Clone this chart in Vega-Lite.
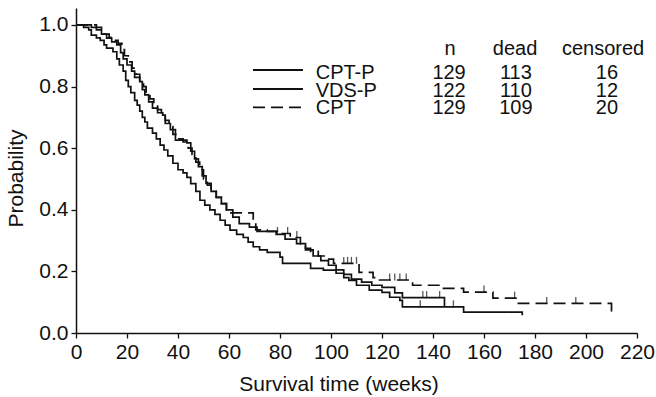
{
  "$schema": "https://vega.github.io/schema/vega-lite/v6.json",
  "autosize": "none",
  "width": 561,
  "height": 325,
  "padding": {"left": 76, "top": 8, "right": 19, "bottom": 64},
  "background": "white",
  "config": {
    "view": {"stroke": null},
    "font": "Liberation Sans",
    "axis": {
      "grid": false,
      "domainColor": "#111",
      "domainWidth": 1.5,
      "tickColor": "#111",
      "tickWidth": 1.3,
      "tickSize": 5,
      "labelFont": "Liberation Sans",
      "labelFontSize": 21,
      "labelColor": "#111",
      "labelOverlap": false,
      "labelFlush": false,
      "titleFont": "Liberation Sans",
      "titleFontSize": 21,
      "titleFontWeight": "normal",
      "titleColor": "#111"
    }
  },
  "datasets": {
    "curves": [
      {"series": "CPT", "week": 0, "surv": 1.0},
      {"series": "CPT", "week": 8, "surv": 0.992},
      {"series": "CPT", "week": 10, "surv": 0.984},
      {"series": "CPT", "week": 11, "surv": 0.97},
      {"series": "CPT", "week": 13, "surv": 0.96},
      {"series": "CPT", "week": 15, "surv": 0.95},
      {"series": "CPT", "week": 16.5, "surv": 0.94},
      {"series": "CPT", "week": 18, "surv": 0.92},
      {"series": "CPT", "week": 19, "surv": 0.9},
      {"series": "CPT", "week": 20.5, "surv": 0.88},
      {"series": "CPT", "week": 22, "surv": 0.86},
      {"series": "CPT", "week": 23.5, "surv": 0.84},
      {"series": "CPT", "week": 25, "surv": 0.82},
      {"series": "CPT", "week": 26.5, "surv": 0.8},
      {"series": "CPT", "week": 27.5, "surv": 0.78},
      {"series": "CPT", "week": 29, "surv": 0.76},
      {"series": "CPT", "week": 30.5, "surv": 0.74},
      {"series": "CPT", "week": 32, "surv": 0.725},
      {"series": "CPT", "week": 33.5, "surv": 0.71},
      {"series": "CPT", "week": 35, "surv": 0.69},
      {"series": "CPT", "week": 36.5, "surv": 0.67},
      {"series": "CPT", "week": 38, "surv": 0.645},
      {"series": "CPT", "week": 40, "surv": 0.63},
      {"series": "CPT", "week": 42, "surv": 0.62},
      {"series": "CPT", "week": 44, "surv": 0.6},
      {"series": "CPT", "week": 45.5, "surv": 0.58},
      {"series": "CPT", "week": 47, "surv": 0.555},
      {"series": "CPT", "week": 48.5, "surv": 0.53},
      {"series": "CPT", "week": 50, "surv": 0.5},
      {"series": "CPT", "week": 51.5, "surv": 0.48},
      {"series": "CPT", "week": 53, "surv": 0.46},
      {"series": "CPT", "week": 55, "surv": 0.44},
      {"series": "CPT", "week": 57, "surv": 0.42},
      {"series": "CPT", "week": 59, "surv": 0.40},
      {"series": "CPT", "week": 60, "surv": 0.39},
      {"series": "CPT", "week": 69.5, "surv": 0.36},
      {"series": "CPT", "week": 70.5, "surv": 0.335},
      {"series": "CPT", "week": 75, "surv": 0.33},
      {"series": "CPT", "week": 79, "surv": 0.323},
      {"series": "CPT", "week": 84, "surv": 0.31},
      {"series": "CPT", "week": 88, "surv": 0.29},
      {"series": "CPT", "week": 90, "surv": 0.275},
      {"series": "CPT", "week": 92, "surv": 0.265},
      {"series": "CPT", "week": 95, "surv": 0.25},
      {"series": "CPT", "week": 98, "surv": 0.24},
      {"series": "CPT", "week": 101, "surv": 0.226},
      {"series": "CPT", "week": 111, "surv": 0.197},
      {"series": "CPT", "week": 116.5, "surv": 0.18},
      {"series": "CPT", "week": 119, "surv": 0.172},
      {"series": "CPT", "week": 132, "surv": 0.155},
      {"series": "CPT", "week": 143, "surv": 0.145},
      {"series": "CPT", "week": 152, "surv": 0.133},
      {"series": "CPT", "week": 163.5, "surv": 0.113},
      {"series": "CPT", "week": 173, "surv": 0.096},
      {"series": "CPT", "week": 210, "surv": 0.064},

      {"series": "CPT-P", "week": 0, "surv": 1.0},
      {"series": "CPT-P", "week": 6, "surv": 0.992},
      {"series": "CPT-P", "week": 8, "surv": 0.984},
      {"series": "CPT-P", "week": 10, "surv": 0.97},
      {"series": "CPT-P", "week": 12, "surv": 0.957},
      {"series": "CPT-P", "week": 14, "surv": 0.945},
      {"series": "CPT-P", "week": 16, "surv": 0.935},
      {"series": "CPT-P", "week": 17.5, "surv": 0.91},
      {"series": "CPT-P", "week": 18.5, "surv": 0.89},
      {"series": "CPT-P", "week": 20, "surv": 0.87},
      {"series": "CPT-P", "week": 21.8, "surv": 0.85},
      {"series": "CPT-P", "week": 23, "surv": 0.83},
      {"series": "CPT-P", "week": 25, "surv": 0.816},
      {"series": "CPT-P", "week": 26, "surv": 0.79},
      {"series": "CPT-P", "week": 27, "surv": 0.773},
      {"series": "CPT-P", "week": 28.5, "surv": 0.75},
      {"series": "CPT-P", "week": 30, "surv": 0.73},
      {"series": "CPT-P", "week": 32, "surv": 0.715},
      {"series": "CPT-P", "week": 34, "surv": 0.707},
      {"series": "CPT-P", "week": 35, "surv": 0.68},
      {"series": "CPT-P", "week": 37, "surv": 0.66},
      {"series": "CPT-P", "week": 39, "surv": 0.626},
      {"series": "CPT-P", "week": 43.5, "surv": 0.617},
      {"series": "CPT-P", "week": 45, "surv": 0.59},
      {"series": "CPT-P", "week": 46.5, "surv": 0.565},
      {"series": "CPT-P", "week": 48, "surv": 0.54},
      {"series": "CPT-P", "week": 49.5, "surv": 0.51},
      {"series": "CPT-P", "week": 51, "surv": 0.486},
      {"series": "CPT-P", "week": 53, "surv": 0.46},
      {"series": "CPT-P", "week": 55, "surv": 0.44},
      {"series": "CPT-P", "week": 57, "surv": 0.42},
      {"series": "CPT-P", "week": 59, "surv": 0.40},
      {"series": "CPT-P", "week": 61.5, "surv": 0.376},
      {"series": "CPT-P", "week": 64, "surv": 0.355},
      {"series": "CPT-P", "week": 68, "surv": 0.344},
      {"series": "CPT-P", "week": 71, "surv": 0.33},
      {"series": "CPT-P", "week": 78.5, "surv": 0.32},
      {"series": "CPT-P", "week": 82, "surv": 0.305},
      {"series": "CPT-P", "week": 86.5, "surv": 0.29},
      {"series": "CPT-P", "week": 90, "surv": 0.27},
      {"series": "CPT-P", "week": 93, "surv": 0.25},
      {"series": "CPT-P", "week": 96, "surv": 0.235},
      {"series": "CPT-P", "week": 99, "surv": 0.22},
      {"series": "CPT-P", "week": 102, "surv": 0.205},
      {"series": "CPT-P", "week": 105, "surv": 0.19},
      {"series": "CPT-P", "week": 108, "surv": 0.175},
      {"series": "CPT-P", "week": 112, "surv": 0.165},
      {"series": "CPT-P", "week": 116, "surv": 0.155},
      {"series": "CPT-P", "week": 120, "surv": 0.148},
      {"series": "CPT-P", "week": 125, "surv": 0.13},
      {"series": "CPT-P", "week": 128, "surv": 0.115},
      {"series": "CPT-P", "week": 144.5, "surv": 0.085},

      {"series": "VDS-P", "week": 0, "surv": 1.0},
      {"series": "VDS-P", "week": 3, "surv": 0.992},
      {"series": "VDS-P", "week": 5, "surv": 0.984},
      {"series": "VDS-P", "week": 6, "surv": 0.967},
      {"series": "VDS-P", "week": 8, "surv": 0.958},
      {"series": "VDS-P", "week": 9.5, "surv": 0.95},
      {"series": "VDS-P", "week": 11, "surv": 0.935},
      {"series": "VDS-P", "week": 12, "surv": 0.925},
      {"series": "VDS-P", "week": 14.5, "surv": 0.913},
      {"series": "VDS-P", "week": 16, "surv": 0.89},
      {"series": "VDS-P", "week": 17, "surv": 0.87},
      {"series": "VDS-P", "week": 18.5, "surv": 0.85},
      {"series": "VDS-P", "week": 19.5, "surv": 0.82},
      {"series": "VDS-P", "week": 20.5, "surv": 0.8},
      {"series": "VDS-P", "week": 21.5, "surv": 0.78},
      {"series": "VDS-P", "week": 23, "surv": 0.755},
      {"series": "VDS-P", "week": 24, "surv": 0.74},
      {"series": "VDS-P", "week": 25, "surv": 0.72},
      {"series": "VDS-P", "week": 26, "surv": 0.70},
      {"series": "VDS-P", "week": 27, "surv": 0.685},
      {"series": "VDS-P", "week": 28, "surv": 0.665},
      {"series": "VDS-P", "week": 30, "surv": 0.649},
      {"series": "VDS-P", "week": 31.5, "surv": 0.63},
      {"series": "VDS-P", "week": 33, "surv": 0.61},
      {"series": "VDS-P", "week": 34.5, "surv": 0.594},
      {"series": "VDS-P", "week": 36, "surv": 0.575},
      {"series": "VDS-P", "week": 38, "surv": 0.551},
      {"series": "VDS-P", "week": 40, "surv": 0.53},
      {"series": "VDS-P", "week": 42, "surv": 0.52},
      {"series": "VDS-P", "week": 43.5, "surv": 0.505},
      {"series": "VDS-P", "week": 45, "surv": 0.485},
      {"series": "VDS-P", "week": 47, "surv": 0.46},
      {"series": "VDS-P", "week": 48.6, "surv": 0.431},
      {"series": "VDS-P", "week": 50.5, "surv": 0.415},
      {"series": "VDS-P", "week": 52.5, "surv": 0.40},
      {"series": "VDS-P", "week": 54.5, "surv": 0.385},
      {"series": "VDS-P", "week": 56.5, "surv": 0.366},
      {"series": "VDS-P", "week": 58.5, "surv": 0.35},
      {"series": "VDS-P", "week": 60.4, "surv": 0.334},
      {"series": "VDS-P", "week": 63, "surv": 0.32},
      {"series": "VDS-P", "week": 65.6, "surv": 0.31},
      {"series": "VDS-P", "week": 67.5, "surv": 0.295},
      {"series": "VDS-P", "week": 69.5, "surv": 0.28},
      {"series": "VDS-P", "week": 72, "surv": 0.27},
      {"series": "VDS-P", "week": 75, "surv": 0.262},
      {"series": "VDS-P", "week": 80, "surv": 0.246},
      {"series": "VDS-P", "week": 81, "surv": 0.226},
      {"series": "VDS-P", "week": 92, "surv": 0.21},
      {"series": "VDS-P", "week": 97, "surv": 0.204},
      {"series": "VDS-P", "week": 102, "surv": 0.194},
      {"series": "VDS-P", "week": 105, "surv": 0.18},
      {"series": "VDS-P", "week": 107, "surv": 0.171},
      {"series": "VDS-P", "week": 110, "surv": 0.155},
      {"series": "VDS-P", "week": 115, "surv": 0.139},
      {"series": "VDS-P", "week": 120, "surv": 0.132},
      {"series": "VDS-P", "week": 123, "surv": 0.116},
      {"series": "VDS-P", "week": 127, "surv": 0.106},
      {"series": "VDS-P", "week": 128, "surv": 0.085},
      {"series": "VDS-P", "week": 152, "surv": 0.068},
      {"series": "VDS-P", "week": 175, "surv": 0.058}
    ],
    "censor": [
      {"series": "CPT", "week": 79, "surv": 0.323},
      {"series": "CPT", "week": 83, "surv": 0.323},
      {"series": "CPT", "week": 86.6, "surv": 0.31},
      {"series": "CPT", "week": 105, "surv": 0.226},
      {"series": "CPT", "week": 106.5, "surv": 0.226},
      {"series": "CPT", "week": 108, "surv": 0.226},
      {"series": "CPT", "week": 110, "surv": 0.226},
      {"series": "CPT", "week": 123, "surv": 0.172},
      {"series": "CPT", "week": 125, "surv": 0.172},
      {"series": "CPT", "week": 127, "surv": 0.172},
      {"series": "CPT", "week": 129.5, "surv": 0.172},
      {"series": "CPT", "week": 160, "surv": 0.133},
      {"series": "CPT", "week": 172, "surv": 0.113},
      {"series": "CPT", "week": 184.6, "surv": 0.096},
      {"series": "CPT", "week": 196, "surv": 0.096},
      {"series": "CPT-P", "week": 136, "surv": 0.115},
      {"series": "CPT-P", "week": 137.5, "surv": 0.115},
      {"series": "CPT-P", "week": 142.6, "surv": 0.115},
      {"series": "VDS-P", "week": 135, "surv": 0.085},
      {"series": "VDS-P", "week": 148, "surv": 0.085}
    ],
    "legend": [
      {"series": "CPT-P", "x1": 69.4, "x2": 89.0, "ly": 0.8537, "ty": 0.8245, "n": "129", "dead": "113", "censored": "16"},
      {"series": "VDS-P", "x1": 69.4, "x2": 89.0, "ly": 0.792, "ty": 0.766, "n": "122", "dead": "110", "censored": "12"},
      {"series": "CPT", "x1": 69.4, "x2": 89.0, "ly": 0.7327, "ty": 0.711, "n": "129", "dead": "109", "censored": "20"}
    ],
    "header": [
      {"label": "n", "hx": 146.7, "hy": 0.902, "style": "italic"},
      {"label": "dead", "hx": 172.2, "hy": 0.902, "style": "normal"},
      {"label": "censored", "hx": 206.7, "hy": 0.902, "style": "normal"}
    ]
  },
  "layer": [
    {
      "data": {"name": "curves"},
      "mark": {"type": "line", "interpolate": "step-after", "color": "#111", "strokeWidth": 1.7},
      "encoding": {
        "x": {"field": "week", "type": "quantitative", "scale": {"domain": [0, 220], "nice": false, "padding": 0},
          "axis": {"values": [0, 20, 40, 60, 80, 100, 120, 140, 160, 180, 200, 220], "labelPadding": 3, "title": "Survival time (weeks)", "titleX": 262.5, "titleY": 57, "titleBaseline": "alphabetic", "titleAlign": "center"}},
        "y": {"field": "surv", "type": "quantitative", "scale": {"domain": [0, 1.055], "nice": false, "zero": false, "padding": 0},
          "axis": {"values": [0, 0.1, 0.2, 0.3, 0.4, 0.5, 0.6, 0.7, 0.8, 0.9, 1.0], "format": ".1f", "labelPadding": 3, "title": "Probability", "titleX": -54, "titleY": 170, "titleBaseline": "alphabetic", "titleAlign": "center", "titleAngle": -90}},
        "detail": {"field": "series"},
        "strokeDash": {"field": "series", "type": "nominal", "scale": {"domain": ["CPT-P", "VDS-P", "CPT"], "range": [[1, 0], [1, 0], [12, 6]]}, "legend": null}
      }
    },
    {
      "data": {"name": "censor"},
      "mark": {"type": "tick", "orient": "vertical", "color": "#111", "size": 7, "thickness": 1.3, "yOffset": -3},
      "encoding": {
        "x": {"field": "week", "type": "quantitative"},
        "y": {"field": "surv", "type": "quantitative"}
      }
    },
    {
      "data": {"name": "legend"},
      "mark": {"type": "rule", "color": "#111", "strokeWidth": 1.8},
      "encoding": {
        "x": {"field": "x1", "type": "quantitative"},
        "x2": {"field": "x2"},
        "y": {"field": "ly", "type": "quantitative"},
        "strokeDash": {"field": "series", "type": "nominal", "legend": null}
      }
    },
    {
      "data": {"name": "legend"},
      "mark": {"type": "text", "align": "left", "baseline": "alphabetic", "font": "Liberation Sans", "fontSize": 20, "color": "#111"},
      "encoding": {
        "x": {"datum": 94},
        "y": {"field": "ty", "type": "quantitative"},
        "text": {"field": "series"}
      }
    },
    {
      "data": {"name": "legend"},
      "mark": {"type": "text", "align": "center", "baseline": "alphabetic", "font": "Liberation Sans", "fontSize": 20, "color": "#111"},
      "encoding": {
        "x": {"datum": 146.3},
        "y": {"field": "ty", "type": "quantitative"},
        "text": {"field": "n"}
      }
    },
    {
      "data": {"name": "legend"},
      "mark": {"type": "text", "align": "center", "baseline": "alphabetic", "font": "Liberation Sans", "fontSize": 20, "color": "#111"},
      "encoding": {
        "x": {"datum": 172.5},
        "y": {"field": "ty", "type": "quantitative"},
        "text": {"field": "dead"}
      }
    },
    {
      "data": {"name": "legend"},
      "mark": {"type": "text", "align": "center", "baseline": "alphabetic", "font": "Liberation Sans", "fontSize": 20, "color": "#111"},
      "encoding": {
        "x": {"datum": 208.2},
        "y": {"field": "ty", "type": "quantitative"},
        "text": {"field": "censored"}
      }
    },
    {
      "data": {"name": "header"},
      "mark": {"type": "text", "align": "center", "baseline": "alphabetic", "font": "Liberation Sans", "fontSize": 20, "color": "#111"},
      "encoding": {
        "x": {"field": "hx", "type": "quantitative"},
        "y": {"field": "hy", "type": "quantitative"},
        "text": {"field": "label"},
        "fontStyle": {"field": "style", "type": "nominal", "scale": null}
      }
    }
  ]
}
